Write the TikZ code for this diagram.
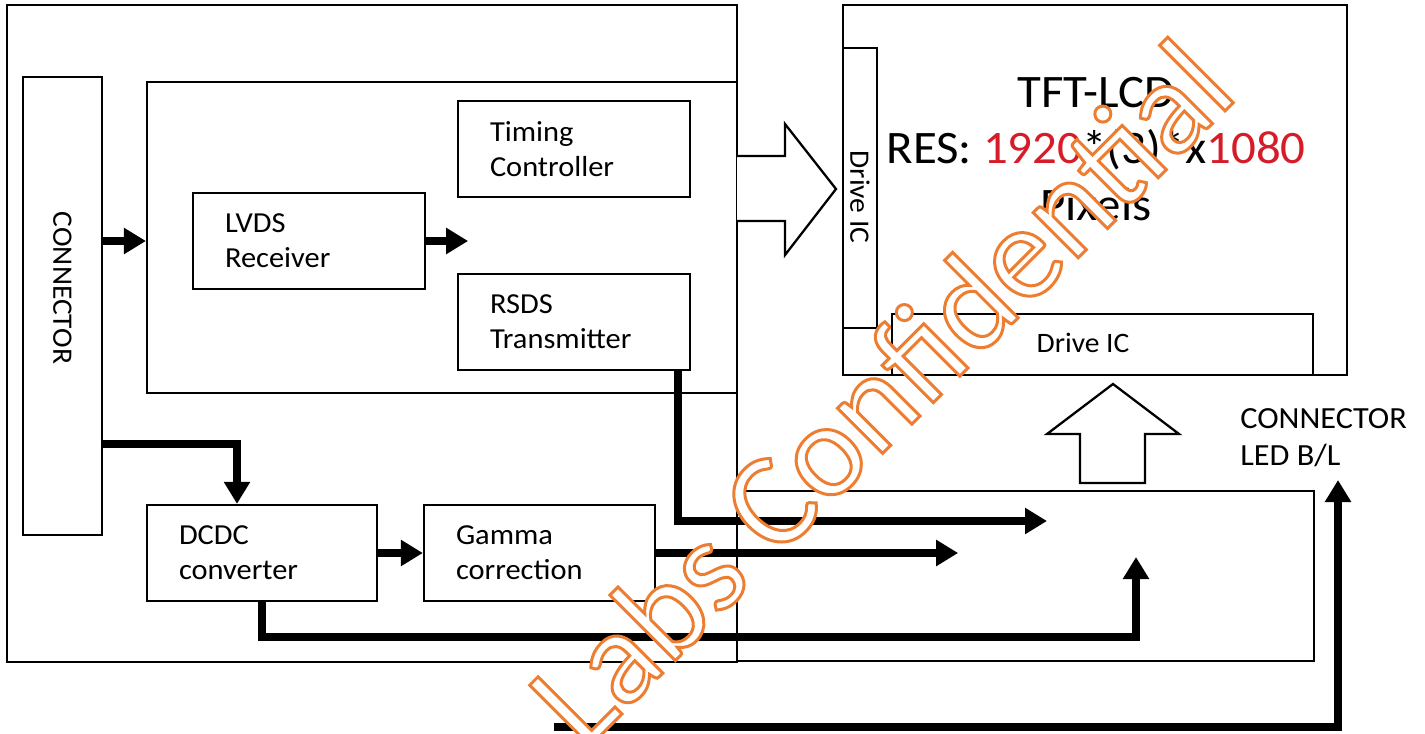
\documentclass[tikz,border=0pt]{standalone}
\usepackage{fontspec}
\setmainfont{Carlito}[FakeStretch=1.05]
\newfontfamily\markfont{Carlito}
\usetikzlibrary{arrows.meta,positioning,calc}
\definecolor{resred}{RGB}{214,28,40}
\definecolor{markorange}{RGB}{237,125,49}

\begin{document}
\begin{tikzpicture}[x=0.02cm, y=-0.02cm,
    every node/.style={font=\fontsize{16}{20}\selectfont},
    frame/.style={draw, line width=1.3pt, inner sep=0pt},
    blk/.style={draw, line width=1.3pt, minimum width=4.64cm, minimum height=1.92cm, inner xsep=0.64cm, inner ysep=0pt, text width=3.36cm, align=left, font=\fontsize{16.5}{20}\selectfont},
    bigarrow/.style={line width=4.5pt, -{Triangle[length=0.44cm,width=0.5cm]}},
    hollow/.style={draw, line width=1.3pt, fill=white, line join=miter}]
    \useasboundingbox (0,0) rectangle (1425,733);

    % Driver board
    \node[frame, minimum width=14.6cm, minimum height=13.14cm] (board) at (372,333.5) {};
    \node[frame, minimum width=1.58cm, minimum height=9.16cm] (conn) at (62.5,306) {};
    \node[rotate=-90] (conntxt) at (62.5,288) {CONNECTOR};
    \node[frame, minimum width=11.8cm, minimum height=6.22cm] (tcon) at (442,237.5) {};

    % Blocks
    \node[blk] (timing) at (574,149) {Timing\\Controller};
    \node[blk] (lvds) at (309,241) {LVDS\\Receiver};
    \node[blk] (rsds) at (574,322) {RSDS\\Transmitter};
    \node[blk, minimum width=4.6cm, text width=3.32cm] (dcdc) at (262,553) {DCDC\\converter};
    \node[blk, minimum width=4.62cm, text width=3.34cm] (gamma) at (539.5,553) {Gamma\\correction};

    % Panel side
    \node[frame, minimum width=11.54cm, minimum height=3.4cm] (blbox) at (1025.5,576) {};
    \node[frame, minimum width=10.08cm, minimum height=7.4cm] (lcd) at (1095,190) {};
    \node[frame, minimum width=0.68cm, minimum height=5.6cm] (drvv) at (860,188) {};
    \node[rotate=-90] (drvvtxt) at (860,197) {Drive IC};
    \node[frame, minimum width=8.42cm, minimum height=1.22cm] (drvh) at (1102.5,344.5) {};
    \node (drvhtxt) at (1083,343) {Drive IC};
    \node[align=center, font=\fontsize{26.5}{32}\selectfont] (lcdtxt) at (1096,149)
        {TFT-LCD\\RES: \textcolor{resred}{1920}*(3)*x\textcolor{resred}{1080}\\Pixels};
    \node[anchor=west, align=left, inner sep=0pt, font=\fontsize{17.5}{21}\selectfont] (bltxt) at (1240,438) {CONNECTOR\\LED B/L};

    % Hollow arrows
    \draw[hollow] (737,156) -- (785,156) -- (785,124) -- (836,189) -- (785,255) -- (785,221) -- (737,221);
    \draw[hollow] (1080,483) -- (1080,434) -- (1047,434) -- (1113,384) -- (1179,434) -- (1145,434) -- (1145,483) -- cycle;

    % Signal arrows
    \coordinate (rsdsend) at (1047,521);
    \coordinate (dcdcend) at (1136,557);
    \coordinate (blstart) at (554,727);
    \coordinate (bltip) at (1338,480);
    \draw[bigarrow] (conn.east |- lvds.west) -- (tcon.west |- lvds.west);
    \draw[bigarrow] (lvds.east) -- ++(42,0);
    \draw[bigarrow] ([yshift=-2.76cm]conn.east) -| ([xshift=-0.5cm]dcdc.north);
    \draw[bigarrow] (dcdc) -- (gamma);
    \draw[bigarrow] ([xshift=-0.26cm]rsds.south east) |- (rsdsend);
    \draw[bigarrow] (gamma.east) -- ++(302,0);
    \draw[bigarrow] (dcdc.south) -- ++(0,35) -| (dcdcend);
    \draw[bigarrow] (blstart) -| (bltip);

    % Watermark
    \node[rotate=45, anchor=base, inner sep=0pt, text=markorange, font=\markfont\fontsize{76}{76}\selectfont] (mark) at (912,424)
        {\special{pdf:literal direct 2 Tr 1.7 w 0.929 0.490 0.192 RG 1 g}Labs Confidential\special{pdf:literal direct 0 Tr}};
\end{tikzpicture}
\end{document}
